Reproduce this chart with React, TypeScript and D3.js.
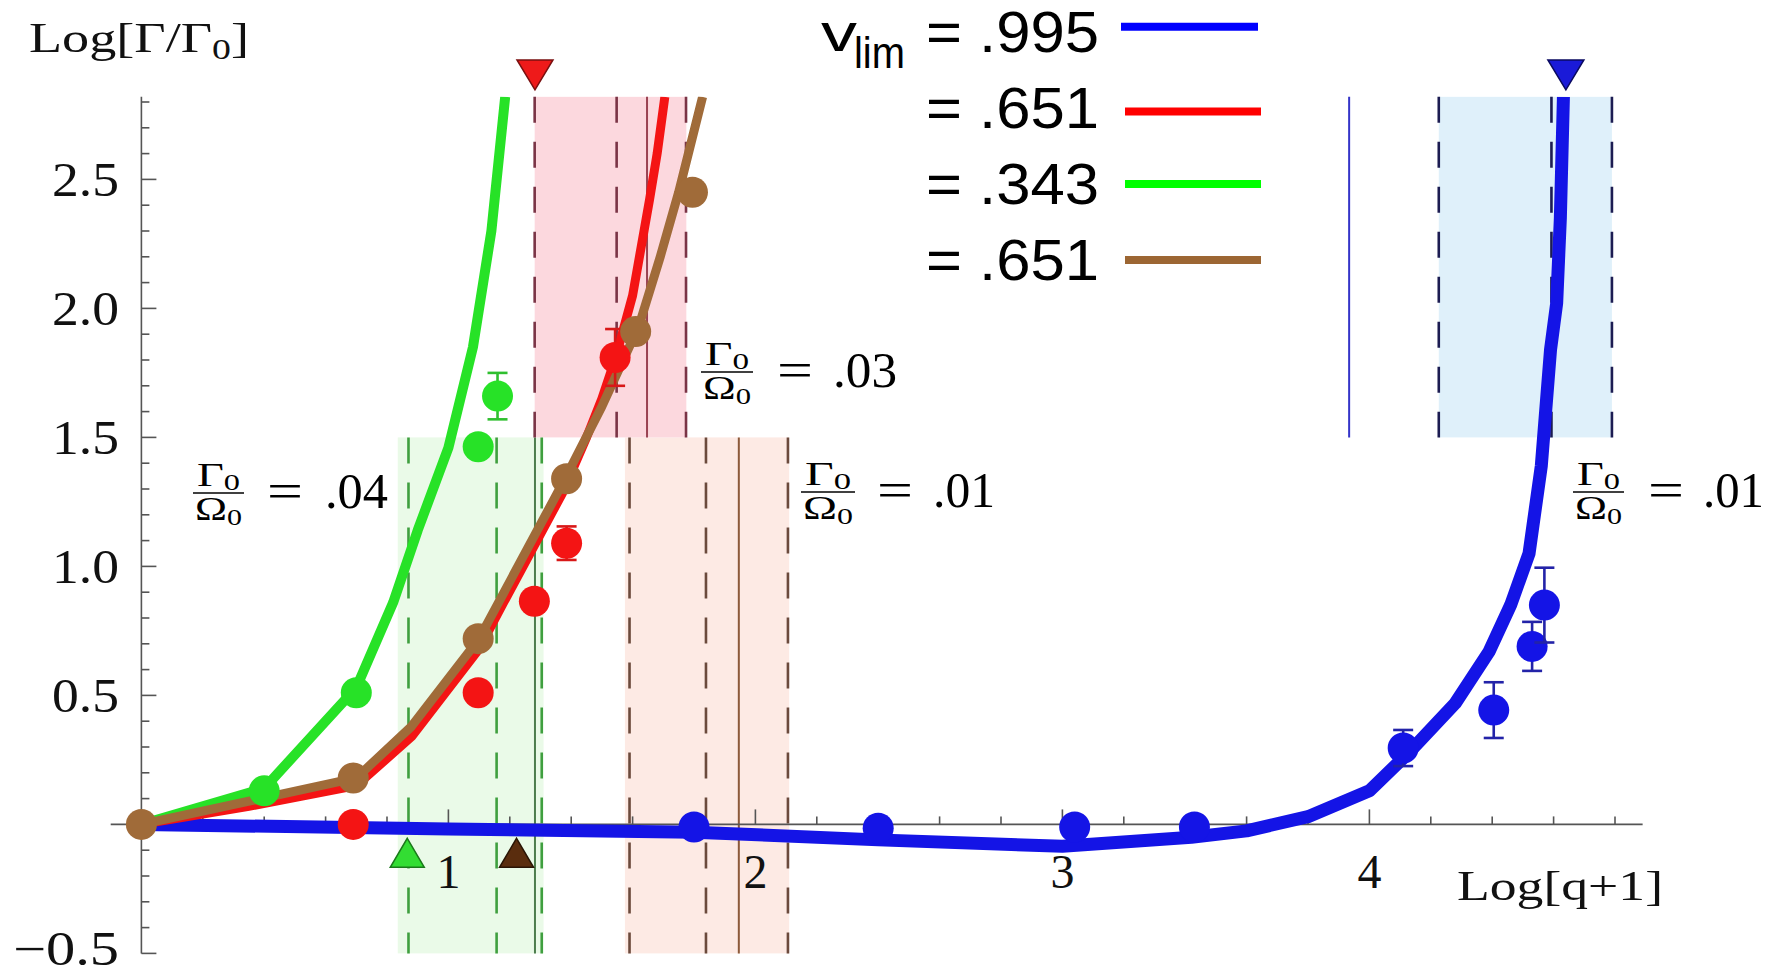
import React from "react";
import * as d3 from "d3";

const W = 1788;
const H = 976;

// ---------- axis ticks ----------
const xTickValues = [1, 2, 3, 4];
const xTickLabels = ["1", "2", "3", "4"];
const yTickValues = [-0.5, 0.5, 1.0, 1.5, 2.0, 2.5];
const yTickLabels = ["\u22120.5", "0.5", "1.0", "1.5", "2.0", "2.5"];

// ---------- theory curves (x = Log[q+1], y = Log[Γ/Γ0]) ----------
const curve995: [number, number][] = [
  [0, 0], [1.0, -0.018], [1.8, -0.03], [2.4, -0.06], [3.0, -0.085], [3.42, -0.05],
  [3.6, -0.025], [3.8, 0.03], [4.0, 0.13], [4.13, 0.28], [4.28, 0.47], [4.39, 0.67],
  [4.46, 0.85], [4.52, 1.05], [4.56, 1.39], [4.59, 1.84], [4.61, 2.02], [4.622, 2.35], [4.632, 2.82],
];
const curve651: [number, number][] = [
  [0, 0], [0.35, 0.07], [0.7, 0.15], [0.88, 0.34], [1.1, 0.68], [1.18, 0.86], [1.37, 1.28],
  [1.45, 1.5], [1.5, 1.65], [1.545, 1.81], [1.6, 2.05], [1.655, 2.42], [1.68, 2.6], [1.705, 2.82],
];
const curve343: [number, number][] = [
  [0, 0], [0.4, 0.14], [0.7, 0.53], [0.82, 0.86], [0.9, 1.14], [1.0, 1.46], [1.08, 1.85],
  [1.14, 2.3], [1.185, 2.82],
];
const curve651b: [number, number][] = [
  [0, 0], [0.7, 0.18], [0.88, 0.38], [1.1, 0.72], [1.38, 1.34], [1.5, 1.62], [1.62, 1.93],
  [1.69, 2.2], [1.75, 2.45], [1.828, 2.82],
];

// ---------- measured points [x, y, error] ----------
const pts995: [number, number, number][] = [
  [1.8, -0.01, 0], [2.4, -0.015, 0], [3.04, -0.01, 0], [3.43, -0.01, 0],
  [4.11, 0.296, 0.07], [4.405, 0.443, 0.108], [4.53, 0.69, 0.095], [4.57, 0.85, 0.145],
];
const pts651: [number, number, number][] = [
  [0.69, 0.0, 0], [1.097, 0.51, 0], [1.28, 0.865, 0], [1.385, 1.09, 0.065], [1.543, 1.81, 0.11],
];
const pts343: [number, number, number][] = [
  [0.4, 0.13, 0], [0.7, 0.51, 0], [1.097, 1.464, 0], [1.16, 1.66, 0.09],
];
const pts651b: [number, number, number][] = [
  [0, 0, 0], [0.69, 0.18, 0], [1.097, 0.72, 0], [1.385, 1.34, 0], [1.61, 1.91, 0], [1.795, 2.45, 0],
];

// ---------- legend ----------
const legendValues = [".995", ".651", ".343", ".651"];

// ---------- bands (data units) ----------
const band343 = { lo: 0.835, hi: 1.31, yLo: -0.5, yHi: 1.5, dashed: [0.87, 1.157, 1.304], solid: [1.282] };
const band651 = { lo: 1.281, hi: 1.775, yLo: 1.5, yHi: 2.82, dashed: [1.281, 1.548, 1.774], solid: [1.647] };
const band651b = { lo: 1.575, hi: 2.11, yLo: -0.5, yHi: 1.5, dashed: [1.59, 1.839, 2.106], solid: [1.946] };
const band995 = { lo: 4.226, hi: 4.79, yLo: 1.5, yHi: 2.82, dashed: [4.226, 4.593, 4.79], solid: [3.934] };

// markers
const upMarkers = [0.866, 1.222]; // v=.343, v=.651 (brown)
const downMarkers = [1.282, 4.64]; // v=.651 (red), v=.995
const ratioValues = [".04", ".03", ".01", ".01"];

// ---------- scales ----------
const x = d3.scaleLinear().domain([0, 4]).range([141.4, 1369.4]);
const y = d3.scaleLinear().domain([0, 2.5]).range([824.4, 179.4]);

const SERIF = "'Liberation Serif', 'Times New Roman', serif";
const SANS = "'Liberation Sans', Arial, sans-serif";

const COL = {
  blue: "#1414e6",
  red: "#f41414",
  green: "#27e227",
  brown: "#a06b39",
};

const line = d3
  .line<[number, number]>()
  .x((d) => x(d[0]))
  .y((d) => y(d[1]));

function Band({ b, fill }: { b: any; fill: string }) {
  return (
    <rect x={x(b.lo)} y={y(b.yHi)} width={x(b.hi) - x(b.lo)} height={y(b.yLo) - y(b.yHi)} fill={fill} />
  );
}

function BandLines({ b, dash, solid }: { b: any; dash: string; solid: string }) {
  return (
    <g>
      {b.dashed.map((v: number, i: number) => (
        <line key={"d" + i} x1={x(v)} x2={x(v)} y1={y(b.yHi)} y2={y(b.yLo)} stroke={dash} strokeWidth={2.6} strokeDasharray="26 19" />
      ))}
      {b.solid.map((v: number, i: number) => (
        <line key={"s" + i} x1={x(v)} x2={x(v)} y1={y(b.yHi)} y2={y(b.yLo)} stroke={solid} strokeWidth={2} />
      ))}
    </g>
  );
}

function Dots({ pts, color, errColor }: { pts: [number, number, number][]; color: string; errColor: string }) {
  return (
    <g>
      {pts.map((p, i) => (
        <g key={i}>
          {p[2] > 0 && (
            <g stroke={errColor} strokeWidth={2.6}>
              <line x1={x(p[0])} x2={x(p[0])} y1={y(p[1] + p[2])} y2={y(p[1] - p[2])} />
              <line x1={x(p[0]) - 10} x2={x(p[0]) + 10} y1={y(p[1] + p[2])} y2={y(p[1] + p[2])} />
              <line x1={x(p[0]) - 10} x2={x(p[0]) + 10} y1={y(p[1] - p[2])} y2={y(p[1] - p[2])} />
            </g>
          )}
          <circle cx={x(p[0])} cy={y(p[1])} r={15.5} fill={color} />
        </g>
      ))}
    </g>
  );
}

function Fraction({ bx, bw, by, eqL, valL, valW, value }: any) {
  const cx = bx + bw / 2;
  return (
    <g fontFamily={SERIF} fill="#000">
      <text x={cx} y={by - 7} fontSize={33} textAnchor="middle" textLength={bw - 8} lengthAdjust="spacingAndGlyphs">
        Γ<tspan fontSize={23} dy={4}>0</tspan>
      </text>
      <line x1={bx} x2={bx + bw} y1={by} y2={by} stroke="#000" strokeWidth={1.6} />
      <text x={cx} y={by + 27} fontSize={33} textAnchor="middle" textLength={bw - 4} lengthAdjust="spacingAndGlyphs">
        Ω<tspan fontSize={23} dy={5}>0</tspan>
      </text>
      <text x={eqL} y={by + 15} fontSize={50} textLength={36} lengthAdjust="spacingAndGlyphs">=</text>
      <text x={valL} y={by + 15} fontSize={50} textLength={valW} lengthAdjust="spacingAndGlyphs">{value}</text>
    </g>
  );
}

export default function App() {
  const xMinor = d3.range(1, 25).map((i) => i * 0.2);
  const yMinor = d3.range(-5, 29).filter((i) => i !== 0).map((i) => i / 10);
  const axisCol = "#555";
  const topY = y(2.82);

  return (
    <svg
      width={W}
      height={H}
      viewBox={`0 0 ${W} ${H}`}
      style={{ position: "absolute", left: 0, top: 0, background: "#fff" }}
    >
      <defs>
        <clipPath id="plotClip">
          <rect x={0} y={topY} width={W} height={H - topY} />
        </clipPath>
      </defs>
      <rect width={W} height={H} fill="#fff" />

      {/* bands */}
      <Band b={band343} fill="#eafae8" />
      <Band b={band651b} fill="#fdeae4" />
      <Band b={band651} fill="#fcd8de" />
      <Band b={band995} fill="#dff0fa" />
      <BandLines b={band343} dash="#3f9f3f" solid="#4d7d4d" />
      <BandLines b={band651b} dash="#6b4a3c" solid="#8c5a3a" />
      <BandLines b={band651} dash="#7a3446" solid="#9a4252" />
      <BandLines b={band995} dash="#1c1c52" solid="#3434c8" />

      {/* axes */}
      <g stroke={axisCol} strokeWidth={1.6}>
        <line x1={x(-0.1)} x2={x(4.89)} y1={y(0)} y2={y(0)} />
        <line x1={x(0)} x2={x(0)} y1={y(-0.5)} y2={topY} />
        {xMinor.map((v, i) => {
          const major = Math.abs(v - Math.round(v)) < 1e-6;
          return <line key={"xt" + i} x1={x(v)} x2={x(v)} y1={y(0)} y2={y(0) - (major ? 15 : 8)} />;
        })}
        {yMinor.map((v, i) => {
          const major = Math.abs(v * 2 - Math.round(v * 2)) < 1e-6;
          return <line key={"yt" + i} x1={x(0)} x2={x(0) + (major ? 15 : 8)} y1={y(v)} y2={y(v)} />;
        })}
      </g>

      {/* curves */}
      <g clipPath="url(#plotClip)" fill="none" strokeLinejoin="round">
        <path d={line(curve995) || ""} stroke={COL.blue} strokeWidth={13} />
        <path d={line(curve343) || ""} stroke={COL.green} strokeWidth={10} />
        <path d={line(curve651) || ""} stroke={COL.red} strokeWidth={9} />
        <path d={line(curve651b) || ""} stroke={COL.brown} strokeWidth={9} />
      </g>

      {/* data points */}
      <Dots pts={pts995} color={COL.blue} errColor="#2323a8" />
      <Dots pts={pts343} color={COL.green} errColor="#2fbf2f" />
      <Dots pts={pts651} color={COL.red} errColor="#d81818" />
      <Dots pts={pts651b} color={COL.brown} errColor={COL.brown} />

      {/* markers */}
      {upMarkers.map((v, i) => {
        const cx = x(v);
        const cy = y(-0.11);
        return (
          <path
            key={"up" + i}
            d={`M${cx},${cy - 14.5} L${cx + 17},${cy + 14.5} L${cx - 17},${cy + 14.5} Z`}
            fill={i === 0 ? "#33dd33" : "#5a2d0e"}
            stroke={i === 0 ? "#1a7a1a" : "#2a1505"}
            strokeWidth={1.5}
          />
        );
      })}
      {downMarkers.map((v, i) => {
        const cx = x(v);
        const cy = y(2.905);
        return (
          <path
            key={"dn" + i}
            d={`M${cx - 18},${cy - 15} L${cx + 18},${cy - 15} L${cx},${cy + 15} Z`}
            fill={i === 0 ? "#ee1a1a" : "#1a1ad8"}
            stroke={i === 0 ? "#7a1010" : "#0a0a60"}
            strokeWidth={1.5}
          />
        );
      })}

      {/* tick labels */}
      <g fontFamily={SERIF} fontSize={48} fill="#111">
        {yTickValues.map((v, i) => (
          <text
            key={"yl" + i}
            x={119}
            y={Math.min(y(v) + 16.5, 965)}
            textAnchor="end"
            textLength={yTickLabels[i].length > 3 ? 106 : 67}
            lengthAdjust="spacingAndGlyphs"
          >
            {yTickLabels[i]}
          </text>
        ))}
        {xTickValues.map((v, i) => (
          <text key={"xl" + i} x={x(v)} y={888} textAnchor="middle">
            {xTickLabels[i]}
          </text>
        ))}
      </g>

      {/* axis labels */}
      <text x={29} y={52} fontFamily={SERIF} fontSize={43} fill="#111" textLength={220} lengthAdjust="spacingAndGlyphs">
        Log[Γ/Γ<tspan fontSize={30} dy={7}>0</tspan>
        <tspan dy={-7}>]</tspan>
      </text>
      <text x={1457} y={900} fontFamily={SERIF} fontSize={43} fill="#111" textLength={206} lengthAdjust="spacingAndGlyphs">
        Log[q+1]
      </text>

      {/* ratio annotations */}
      <Fraction bx={193} bw={51} by={493} eqL={267} valL={325} valW={63} value={ratioValues[0]} />
      <Fraction bx={701} bw={52} by={372} eqL={777} valL={833} valW={64} value={ratioValues[1]} />
      <Fraction bx={801} bw={54} by={492} eqL={877} valL={933} valW={62} value={ratioValues[2]} />
      <Fraction bx={1573} bw={51} by={492} eqL={1648} valL={1703} valW={61} value={ratioValues[3]} />

      {/* legend */}
      <g fontFamily={SANS} fill="#000">
        <text x={821} y={51} fontSize={54} textLength={36} lengthAdjust="spacingAndGlyphs">v</text>
        <text x={854} y={68} fontSize={44} textLength={51} lengthAdjust="spacingAndGlyphs">lim</text>
        {legendValues.map((v, i) => (
          <text key={"lg" + i} x={926} y={52 + i * 76} fontSize={58} textLength={173} lengthAdjust="spacingAndGlyphs">
            {"= " + v}
          </text>
        ))}
      </g>
      {[["#0000ff", 26.7], ["#ff0000", 111.5], ["#00ff00", 184], ["#9c6633", 260]].map((d, i) => (
        <line
          key={"ll" + i}
          x1={i === 0 ? 1121 : 1125}
          x2={i === 0 ? 1258 : 1261}
          y1={d[1] as number}
          y2={d[1] as number}
          stroke={d[0] as string}
          strokeWidth={8}
        />
      ))}
    </svg>
  );
}
